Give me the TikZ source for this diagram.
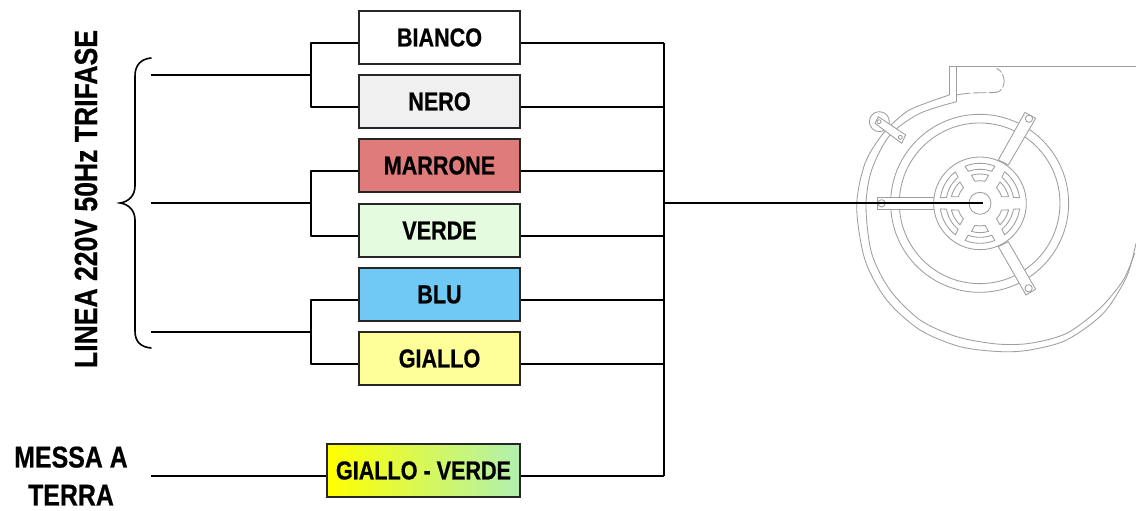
\documentclass[tikz,border=0pt]{standalone}
\usepackage{fontspec}
\setmainfont[FakeStretch=0.83,FakeBold=0.6]{Liberation Sans Bold}
\usetikzlibrary{calc}
\definecolor{fanline}{gray}{0.62}
\tikzset{
 wirebox/.style={draw=black!85,line width=2.8pt,minimum height=53pt,minimum width=161pt,inner sep=0pt,text=black,font=\fontsize{26}{28}\selectfont},
 wire/.style={draw=black,line width=2.3pt,line join=round},
 bracewire/.style={draw=black,line width=1.6pt,line cap=round},
 fan/.style={draw=fanline,line width=0.85pt,line join=round},
 lab/.style={align=center,text=black,inner sep=0pt}
}
\begin{document}
\begin{tikzpicture}[x=1pt,y=-1pt]
\useasboundingbox[fill=white] (0,0) rectangle (1136,511);
% fan drawing, coordinates in 3x zoom units
\begin{scope}[shift={(840,50)},x=0.3333pt,y=-0.3333pt]
 \draw[fan] (888,50) -- (328,50) -- (328,135);
 \draw[fan] (350,50) -- (350,155);
 \draw[fan] (888,50) -- (888,580);
 \draw[fan] plot[smooth] coordinates {(888,580)(860,680)(790,790)(680,870)(570,900)(480,905)(360,890)(240,840)(140,750)(75,630)(50,470)(75,340)(130,250)(200,185)(270,155)(328,135)};
 \draw[fan] plot[smooth] coordinates {(884,610)(850,690)(780,775)(680,850)(570,880)(470,882)(350,860)(240,810)(150,720)(95,610)(78,470)(95,360)(150,255)(240,190)(350,155)};
 \draw[fan,dash pattern=on 14pt off 2pt] (350,135) .. controls (400,125) and (440,130) .. (470,127) .. controls (500,120) and (500,70) .. (470,55);
 \draw[fan] (419,460) circle[radius=267];
 \draw[fan] (419,460) circle[radius=241];
 % small tab
 \draw[fan,fill=white] (118,215) circle[radius=30];
 \draw[fan,fill=white] (105,220) -- (115,200) -- (197,255) -- (185,280) -- cycle;
 \draw[fan] (117,215) circle[radius=6];
 \draw[fan] (181,262) circle[radius=6];
 % arms
 \draw[fan,fill=white] (555,187) -- (587,205) -- (505,345) -- (475,330) -- cycle;
 \draw[fan,fill=white] (475,590) -- (505,575) -- (587,718) -- (558,735) -- cycle;
 \draw[fan,fill=white] (112,443) -- (290,443) -- (290,478) -- (112,478) -- cycle;
 \draw[fan] (567,206) circle[radius=11];
 \draw[fan] (566,715) circle[radius=11];
 \draw[fan] (125,460) circle[radius=11];
 % hub
 \draw[fan,fill=white] (420,460) circle[radius=139];
 \draw[fan] (420,460) circle[radius=33];
 \foreach \a in {90,30,-30,-90,150,210}{
  \begin{scope}[shift={(420,460)},y=0.3333pt]
  \draw[fan] (\a-22:120) arc[start angle=\a-22,end angle=\a+22,radius=120] -- (\a+20:102) arc[start angle=\a+20,end angle=\a-20,radius=102] -- cycle;
  \draw[fan] (\a-17:88) arc[start angle=\a-17,end angle=\a+17,radius=88] -- (\a+13:68) arc[start angle=\a+13,end angle=\a-13,radius=68] -- cycle;
  \end{scope}
 }
\end{scope}
% boxes
\node[wirebox,fill=white] (bianco) at (439.5,37.5) {BIANCO};
\node[wirebox,fill=black!6] (nero) at (439.5,101.5) {NERO};
\node[wirebox,fill={rgb,255:red,224;green,123;blue,123}] (marrone) at (439.5,165.5) {MARRONE};
\node[wirebox,fill={rgb,255:red,228;green,251;blue,224}] (verde) at (439.5,230.5) {VERDE};
\node[wirebox,fill={rgb,255:red,112;green,200;blue,245}] (blu) at (439.5,294.5) {BLU};
\node[wirebox,fill={rgb,255:red,255;green,255;blue,153}] (giallo) at (439.5,358.5) {GIALLO};
\node[wirebox,minimum width=193pt,left color=yellow,right color={rgb,255:red,176;green,240;blue,176}] (gv) at (423.5,470.5) {GIALLO - VERDE};
% labels
\node[lab,rotate=90,font=\fontsize{32}{34}\selectfont] (linea) at (86,199) {LINEA 220V 50Hz TRIFASE};
\node[lab,font=\fontsize{30}{38}\selectfont] (messa) at (71,476) {MESSA A\\TERRA};
% named wire points
\coordinate (la1) at (151,75);  \coordinate (lm1) at (311,75);
\coordinate (lt1) at (311,43);  \coordinate (lb1) at (311,107);
\coordinate (la2) at (151,203); \coordinate (lm2) at (311,203);
\coordinate (lt2) at (311,171); \coordinate (lb2) at (311,236);
\coordinate (la3) at (151,332); \coordinate (lm3) at (311,332);
\coordinate (lt3) at (311,300); \coordinate (lb3) at (311,364);
\coordinate (la4) at (151,476);
\coordinate (r1) at (664,43); \coordinate (r2) at (664,107);
\coordinate (r3) at (664,171); \coordinate (r4) at (664,236);
\coordinate (r5) at (664,300); \coordinate (r6) at (664,364);
\coordinate (r7) at (664,476); \coordinate (rm) at (664,203);
\coordinate (motor) at (983,203);
% wires
\draw[wire] (la1) -- (lm1);
\draw[wire] (bianco.west |- lt1) -- (lt1) -- (lb1) -- (nero.west |- lb1);
\draw[wire] (la2) -- (lm2);
\draw[wire] (marrone.west |- lt2) -- (lt2) -- (lb2) -- (verde.west |- lb2);
\draw[wire] (la3) -- (lm3);
\draw[wire] (blu.west |- lt3) -- (lt3) -- (lb3) -- (giallo.west |- lb3);
\draw[wire] (la4) -- (gv.west |- la4);
\draw[wire] (bianco.east |- r1) -- (r1);
\draw[wire] (nero.east |- r2) -- (r2);
\draw[wire] (marrone.east |- r3) -- (r3);
\draw[wire] (verde.east |- r4) -- (r4);
\draw[wire] (blu.east |- r5) -- (r5);
\draw[wire] (giallo.east |- r6) -- (r6);
\draw[wire] (gv.east |- r7) -- (r7);
\draw[wire] (r1) -- (r7);
\draw[wire] (rm) -- (motor);
% brace
\draw[bracewire] (151,58) .. controls (141,59) and (135,65) .. (135,76) -- (135,186) .. controls (135,196) and (128,202) .. (120,203) .. controls (128,204) and (135,210) .. (135,220) -- (135,331) .. controls (135,342) and (141,347) .. (151,348);
\end{tikzpicture}
\end{document}
